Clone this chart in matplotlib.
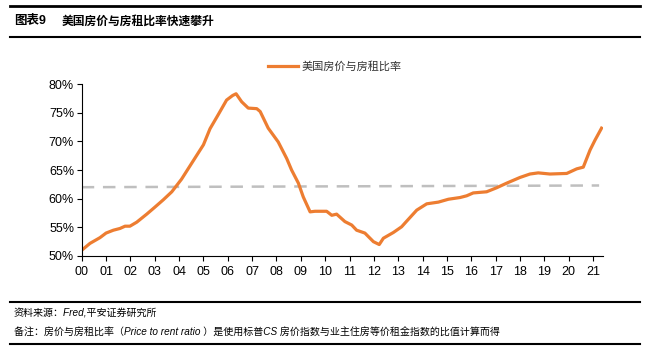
import matplotlib.pyplot as plt
from matplotlib.lines import Line2D

plt.rcParams['font.family'] = ['Liberation Sans', 'Noto Sans CJK SC', 'DejaVu Sans']

# 数据（年份 = 2000 起算的年数）
years = [0.0, 0.34, 0.75, 1.0, 1.3, 1.57, 1.78, 1.98, 2.26, 2.67, 3.0, 3.35, 3.7, 4.1,
         4.58, 5.0, 5.27, 5.6, 5.95, 6.2, 6.34, 6.57, 6.84, 7.19, 7.33, 7.66, 8.07, 8.42,
         8.62, 8.9, 9.1, 9.38, 9.58, 10.06, 10.27, 10.47, 10.81, 11.09, 11.29, 11.63,
         11.98, 12.22, 12.39, 12.8, 13.14, 13.33, 13.76, 14.17, 14.65, 15.06, 15.54,
         15.81, 16.08, 16.63, 17.04, 17.45, 18.0, 18.41, 18.75, 19.23, 19.92, 20.33,
         20.6, 20.88, 21.08, 21.35]
ratio = [51.0, 52.2, 53.2, 54.0, 54.5, 54.8, 55.2, 55.2, 55.9, 57.3, 58.5, 59.8, 61.2, 63.4,
         66.6, 69.4, 72.2, 74.6, 77.2, 78.0, 78.3, 76.9, 75.8, 75.7, 75.2, 72.3, 69.9, 67.0,
         65.0, 62.7, 60.3, 57.7, 57.8, 57.8, 57.1, 57.3, 56.0, 55.4, 54.5, 54.0,
         52.5, 52.0, 53.1, 54.1, 55.1, 56.0, 58.0, 59.1, 59.4, 59.9, 60.2,
         60.5, 61.0, 61.2, 61.9, 62.7, 63.7, 64.3, 64.5, 64.3, 64.4, 65.2,
         65.5, 68.5, 70.2, 72.3]
avg_years = [0.0, 21.25]
avg_ratio = [62.0, 62.3]

xtick_labels = ['00', '01', '02', '03', '04', '05', '06', '07', '08', '09', '10',
                '11', '12', '13', '14', '15', '16', '17', '18', '19', '20', '21']
ytick_vals = [50, 55, 60, 65, 70, 75, 80]

fig = plt.figure(figsize=(6.5, 3.53), dpi=100)
ax = fig.add_axes([0.1257, 0.2748, 0.802, 0.4872])

ax.plot(avg_years, avg_ratio, color='#BFBFBF', lw=1.8, dashes=(5, 3.5))
ax.plot(years, ratio, color='#ED7D31', lw=2.3, solid_joinstyle='round',
        label='美国房价与房租比率')

ax.set_xlim(0, 21.41)
ax.set_ylim(50, 80)
ax.set_xticks(range(len(xtick_labels)))
ax.set_xticklabels(xtick_labels)
ax.set_yticks(ytick_vals)
ax.set_yticklabels([f'{v}%' for v in ytick_vals])
ax.tick_params(labelsize=9, length=3.5, width=0.8, color='black', pad=4)
ax.tick_params(axis='y', pad=2)
for s in ['top', 'right']:
    ax.spines[s].set_visible(False)
for s in ['left', 'bottom']:
    ax.spines[s].set_linewidth(0.8)

leg = ax.legend(loc='center left', bbox_to_anchor=(0.357, 1.1), frameon=False,
                prop={'family': ['Noto Sans CJK SC'], 'size': 8},
                handlelength=2.7, handletextpad=0.3, borderaxespad=0, borderpad=0)
for t in leg.get_texts():
    t.set_color('#333333')

# 标题和脚注
cjk = ['Liberation Sans', 'Noto Sans CJK SC']
fig.add_artist(Line2D([10 / 650, 640 / 650], [1 - 6 / 353] * 2, color='black', lw=2))
fig.add_artist(Line2D([10 / 650, 640 / 650], [1 - 37 / 353] * 2, color='black', lw=1.5))
fig.text(14 / 650, 1 - 21 / 353, '图表9', family=cjk, weight='bold', fontsize=9, va='center')
fig.text(62 / 650, 1 - 21 / 353, '美国房价与房租比率快速攀升', family=['Noto Sans CJK SC'],
         weight='bold', fontsize=8.5, va='center')

fig.add_artist(Line2D([10 / 650, 640 / 650], [1 - 302 / 353] * 2, color='black', lw=1.5))
fig.add_artist(Line2D([10 / 650, 640 / 650], [1 - 344 / 353] * 2, color='black', lw=1.5))
fig.text(14 / 650, 1 - 313 / 353, '资料来源：Fred,平安证券研究所', family=cjk, style='italic',
         fontsize=7.2, va='center')
fig.text(14 / 650, 1 - 333 / 353,
         '备注：房价与房租比率（Price to rent ratio ）是使用标普CS 房价指数与业主住房等价租金指数的比值计算而得',
         family=cjk, style='italic', fontsize=7.2, va='center')

fig.savefig('out.png', dpi=100)
